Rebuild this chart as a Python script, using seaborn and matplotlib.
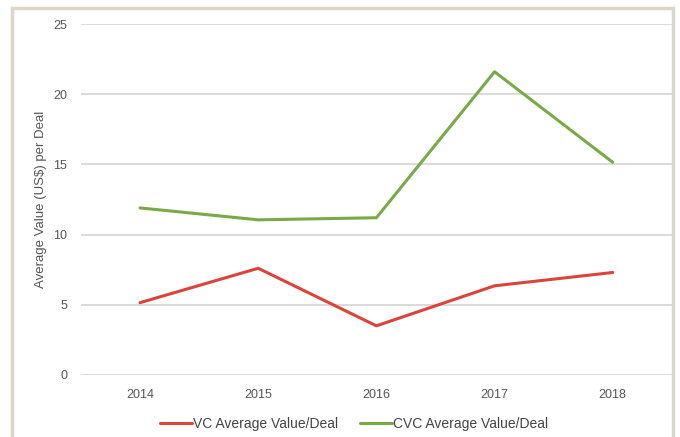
import matplotlib
matplotlib.use("Agg")
import matplotlib.pyplot as plt
import seaborn as sns
import pandas as pd
from matplotlib.patches import Rectangle

sns.set_theme(style="white")
plt.rcParams['font.family'] = ['Liberation Sans', 'DejaVu Sans']

# ── DATA ───────────────────────────────────────────────────
years   = ["2014", "2015", "2016", "2017", "2018"]
vc_avg  = [5.15, 7.6, 3.5, 6.35, 7.3]
cvc_avg = [11.9, 11.05, 11.2, 21.6, 15.15]
series  = ["VC Average Value/Deal", "CVC Average Value/Deal"]

df = pd.DataFrame({
    "Year":   years * 2,
    "Value":  vc_avg + cvc_avg,
    "Series": [series[0]] * len(years) + [series[1]] * len(years),
})

# ── PLOT ───────────────────────────────────────────────────
fig = plt.figure(figsize=(6.8, 4.37), dpi=100)
ax = fig.add_axes([0.119, 0.142, 0.869, 0.803])

sns.lineplot(data=df, x="Year", y="Value", hue="Series", ax=ax,
             palette=["#d9443c", "#79a949"], linewidth=2.2, sort=False)

ax.set_xlim(-0.5, 4.5)
ax.set_ylim(0, 25)
ax.set_yticks([0, 5, 10, 15, 20, 25])
ax.yaxis.grid(True, color="#d4d4d4", linewidth=1.2)
ax.xaxis.grid(False)
for s in ax.spines.values():
    s.set_visible(False)
ax.tick_params(axis="both", labelsize=9, colors="#555555", length=0, pad=10)
ax.set_xlabel("")
ax.set_ylabel("Average Value (US$) per Deal", fontsize=9.5, color="#555555", labelpad=4)

leg = ax.legend(loc="upper center", bbox_to_anchor=(0.462, -0.085), ncol=2,
                frameon=False, fontsize=10, handlelength=2.3,
                columnspacing=1.6, handletextpad=0.05)
for t in leg.get_texts():
    t.set_color("#444444")

# beige frame around the chart
fig.patches.append(Rectangle((12 / 680, -0.05), 661 / 680, 1.05 - 8 / 437,
                             transform=fig.transFigure, fill=False,
                             edgecolor="#ddd5c5", linewidth=2.5))

fig.savefig("out.png", dpi=100)
